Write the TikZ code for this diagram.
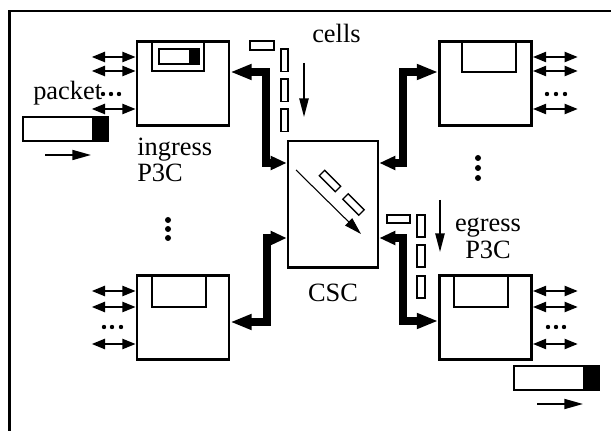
\documentclass[tikz,border=0pt]{standalone}
\usepackage{fontspec}
\setmainfont{Liberation Serif}
\usetikzlibrary{arrows.meta,positioning}

\begin{document}
\begin{tikzpicture}[x=0.75pt,y=-0.75pt,
    font=\fontsize{19.8}{20}\selectfont,
    p3c/.style={draw,line width=2pt,minimum width=69pt,minimum height=63pt,inner sep=0pt},
    switch/.style={draw,line width=2pt,minimum width=67.5pt,minimum height=95pt,inner sep=0pt},
    slot/.style={line width=2pt},
    bus/.style={line width=5.5pt,{Triangle[length=12pt,width=10pt]}-{Triangle[length=16pt,width=11pt]}},
    port/.style={line width=1.8pt,{Triangle[length=10pt,width=7.5pt]}-{Triangle[length=10pt,width=7.5pt]}},
    flow/.style={line width=1.1pt,-{Triangle[length=14pt,width=7pt]}},
    cell/.style={draw,line width=1.3pt},
    txt/.style={inner sep=0pt}
  ]
    \useasboundingbox (0,0) rectangle (611,431);
    \draw[line width=1.7pt] (9.5,431) -- (9.5,10.7) -- (611,10.7);

    \node[p3c] (ing) at (183,83.5) {};
    \node[p3c] (outA) at (485.5,83.5) {};
    \node[p3c] (inB) at (183,317.5) {};
    \node[p3c] (egr) at (485.5,317.5) {};
    \node[switch] (csc) at (333,204.5) {};

    \draw[slot] (152,41) |- (204,71) -- (204,41);
    \draw[slot] (462,41) |- (516,72) -- (516,41);
    \draw[slot] (152,276) |- (206,307) -- (206,276);
    \draw[slot] (454,276) |- (508,307) -- (508,276);

    \fill (189,49) rectangle (199,64);
    \draw[slot] (159,49) rectangle (199,64);
    \fill (92,117) rectangle (108,141);
    \draw[slot] (23,117) rectangle (108,141);
    \fill (583,366) rectangle (599,390);
    \draw[slot] (514,366) rectangle (599,390);

    \draw[bus] (csc.west |- 0,163) -| (266,72) -- (ing.east |- 0,72);
    \draw[bus] (csc.east |- 0,163) -| (403,72) -- (outA.west |- 0,72);
    \draw[bus] (csc.west |- 0,238) -| (267,322) -- (inB.east |- 0,322);
    \draw[bus] (csc.east |- 0,238) -| (403,321) -- (egr.west |- 0,321);

    \foreach \y in {57,71,109} {
      \draw[port] (ing.west |- 0,\y) -- ++(-44,0);
      \draw[port] (outA.east |- 0,\y) -- ++(45,0);
    }
    \foreach \y in {291,307,344} {
      \draw[port] (inB.west |- 0,\y) -- ++(-44,0);
      \draw[port] (egr.east |- 0,\y) -- ++(45,0);
    }
    \foreach \x in {103,111,119} \fill (\x,94) circle (2.2);
    \foreach \x in {547,556,565} \fill (\x,94) circle (2.2);
    \foreach \x in {104,112,121} \fill (\x,327) circle (2.2);
    \foreach \x in {548,556,564} \fill (\x,327) circle (2.2);
    \foreach \y in {220,229,238} \fill (168,\y) circle (3);
    \foreach \y in {158,168,178} \fill (478,\y) circle (3);

    \draw[cell] (250,41) rectangle (274,50);
    \foreach \y in {49,79,109} \draw[cell] (281,\y) rectangle ++(7,22.5);
    \draw[cell] (387,215) rectangle (410,223);
    \foreach \y in {215,245,276} \draw[cell] (417,\y) rectangle ++(8,22);

    \coordinate (inTop) at (304,63);
    \coordinate (inBot) at (304,117);
    \coordinate (egTop) at (440,200);
    \coordinate (egBot) at (440,252);
    \draw[flow] (inTop) -- (inBot);
    \draw[flow] (egTop) -- (egBot);

    \coordinate (pktA) at (45,155);
    \coordinate (pktB) at (91,155);
    \coordinate (pktC) at (537,404);
    \coordinate (pktD) at (583,404);
    \draw[line width=1.3pt,-{Triangle[length=14pt,width=7.5pt]}] (pktA) -- (pktB);
    \draw[line width=1.3pt,-{Triangle[length=14pt,width=7.5pt]}] (pktC) -- (pktD);

    \coordinate (swIn) at (296,170);
    \coordinate (swOut) at (361,234);
    \draw[line width=0.8pt,-{Triangle[length=13pt,width=7.5pt]}] (swIn) -- (swOut);
    \node[cell,line width=1pt,rotate=-45,minimum width=17pt,minimum height=5.7pt,inner sep=0pt] (swA) at (330,181) {};
    \node[cell,line width=1pt,rotate=-45,minimum width=17pt,minimum height=5.7pt,inner sep=0pt] (swB) at (353.5,204.5) {};

    \node[txt,anchor=base west] (cellsLbl) at (312,43) {cells};
    \node[txt,anchor=base west] (pktLbl) at (33,100) {packet};
    \node[txt,anchor=base west,align=left] (ingLbl) at (137,182) {ingress\\P3C};
    \node[txt,anchor=base,align=center] (egrLbl) at (488,258) {egress\\P3C};
    \node[txt,below=11pt of csc] (cscLbl) {CSC};
  \end{tikzpicture}
\end{document}
